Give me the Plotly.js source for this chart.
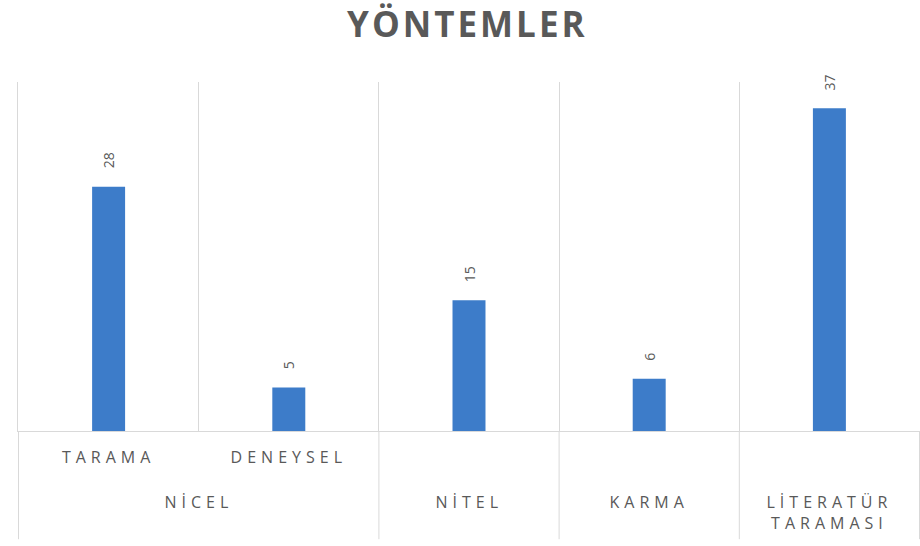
<!DOCTYPE html>
<html>
<head>
<meta charset="utf-8">
<script src="https://cdn.plot.ly/plotly-3.0.1.min.js"></script>
<style>
html,body{margin:0;padding:0;background:#fff;}
#chart{width:920px;height:546px;}
.xtick text{letter-spacing:5px;}
.annotation.grp text{letter-spacing:5px;}
.gtitle{letter-spacing:3px;}
</style>
</head>
<body>
<div id="chart"></div>
<script>
// categories (unique keys), inner labels, outer group of each category
const categories = ["TARAMA", "DENEYSEL", "NİTEL", "KARMA", "LİTERATÜR TARAMASI"];
const innerLabels = ["TARAMA", "DENEYSEL", "", "", ""];
const categoryGroup = ["NİCEL", "NİCEL", "NİTEL", "KARMA", "LİTERATÜR<br>TARAMASI"];
const values = [28, 5, 15, 6, 37];
const chartTitle = "YÖNTEMLER";

const labelColor = "#595959";
const gridColor = "#d9d9d9";
const fontFam = "Open Sans";

const trace = {
  type: "bar",
  x: categories,
  y: values,
  marker: {color: "#3d7cc9"},
  hoverinfo: "x+y"
};

// value labels above bars
const annotations = values.map((v, i) => ({
  x: categories[i], y: v, xref: "x", yref: "y",
  text: String(v), showarrow: false,
  textangle: -90, yanchor: "bottom", yshift: 16,
  font: {family: fontFam, size: 14, color: labelColor}
}));

// outer group labels, centred on the categories they span
const groupNames = [];
const groupIdx = {};
categoryGroup.forEach((g, i) => {
  if (!(g in groupIdx)) { groupIdx[g] = []; groupNames.push(g); }
  groupIdx[g].push(i);
});
groupNames.forEach(g => {
  const idx = groupIdx[g];
  annotations.push({
    x: (idx[0] + idx[idx.length - 1]) / 2, xref: "x",
    y: -0.166, yref: "paper", yanchor: "top",
    text: g, showarrow: false,
    font: {family: fontFam, size: 16, color: labelColor}
  });
});

// dividers between outer groups (below the axis)
const shapes = [];
const boundaries = [-0.5];
groupNames.forEach(g => { const idx = groupIdx[g]; boundaries.push(idx[idx.length - 1] + 0.5); });
boundaries.forEach(b => shapes.push({
  type: "line", xref: "x", yref: "paper",
  x0: b, x1: b, y0: 0, y1: -0.31,
  line: {color: gridColor, width: 1}
}));

const layout = {
  width: 920, height: 546,
  margin: {l: 18, r: 0, t: 82, b: 115},
  paper_bgcolor: "#fff", plot_bgcolor: "#fff",
  title: {
    text: chartTitle,
    font: {family: fontFam, size: 35, color: "#595959", weight: "bold"},
    x: 0.508, xanchor: "center", y: 0.955, yanchor: "middle"
  },
  bargap: 0.817,
  showlegend: false,
  xaxis: {
    type: "category",
    tickvals: categories, ticktext: innerLabels,
    showgrid: true, gridcolor: gridColor, gridwidth: 1,
    tickson: "boundaries",
    showline: true, linecolor: gridColor, linewidth: 1,
    ticks: "",
    ticklabelstandoff: 12,
    tickfont: {family: fontFam, size: 16, color: labelColor}
  },
  yaxis: {
    range: [0, 40],
    showgrid: false, zeroline: false,
    showticklabels: false, ticks: "",
    showline: true, mirror: true, linecolor: gridColor, linewidth: 1
  },
  annotations: annotations,
  shapes: shapes
};

Plotly.newPlot("chart", [trace], layout, {displayModeBar: false, staticPlot: true}).then(gd => {
  const mark = () => {
    document.querySelectorAll("#chart .annotation").forEach(el => {
      const i = +el.getAttribute("data-index");
      if (i >= values.length) el.classList.add("grp");
    });
  };
  mark();
});
</script>
</body>
</html>
